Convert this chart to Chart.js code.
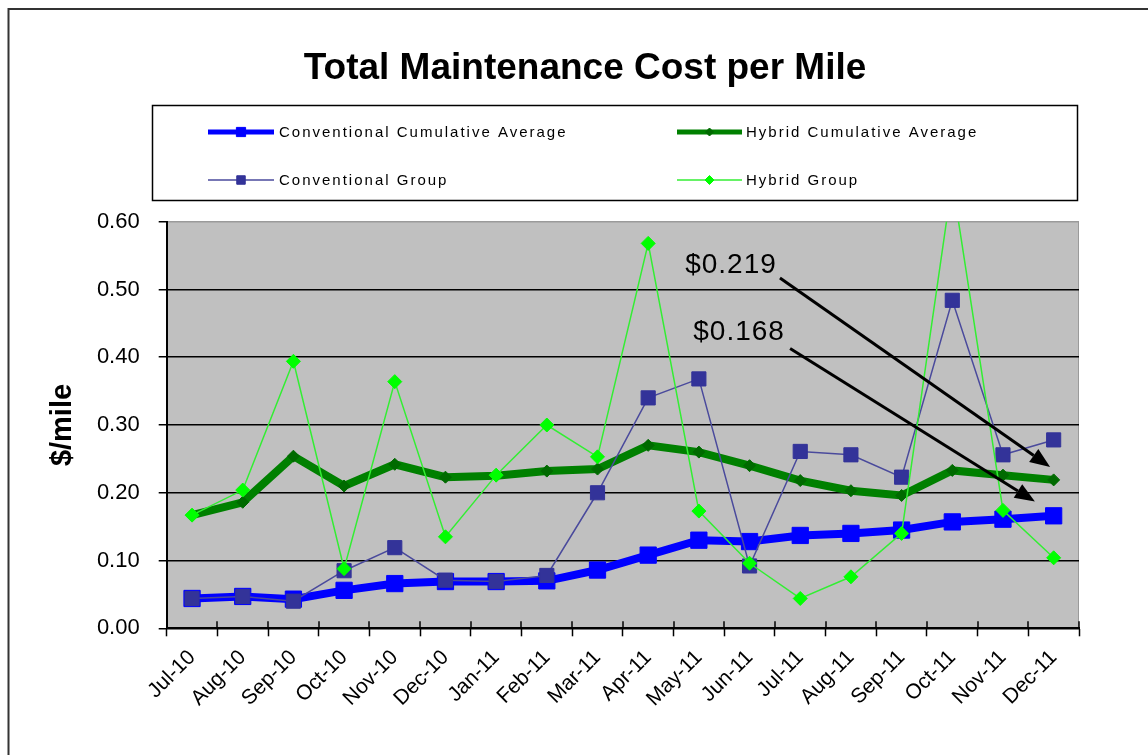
<!DOCTYPE html>
<html>
<head>
<meta charset="utf-8">
<title>Total Maintenance Cost per Mile</title>
<script src="https://cdn.jsdelivr.net/npm/chart.js@4.4.0/dist/chart.umd.min.js"></script>
<style>
    html, body { margin: 0; padding: 0; background: #fff; }
</style>
</head>
<body>
<canvas id="miGrafica" width="1148" height="755"></canvas>
<script>
// Meses (eje X)
const meses = ['Jul-10', 'Aug-10', 'Sep-10', 'Oct-10', 'Nov-10', 'Dec-10', 'Jan-11', 'Feb-11', 'Mar-11',
    'Apr-11', 'May-11', 'Jun-11', 'Jul-11', 'Aug-11', 'Sep-11', 'Oct-11', 'Nov-11', 'Dec-11'];

// Series ($/mile)
const convCumulative = [0.044, 0.047, 0.043, 0.056, 0.066, 0.069, 0.069, 0.070, 0.086,
    0.108, 0.130, 0.128, 0.137, 0.140, 0.145, 0.157, 0.161, 0.166];
const hybridCumulative = [0.167, 0.186, 0.254, 0.210, 0.242, 0.223, 0.225, 0.232, 0.235,
    0.270, 0.260, 0.240, 0.218, 0.203, 0.196, 0.233, 0.226, 0.219];
const convGroup = [0.044, 0.047, 0.040, 0.085, 0.119, 0.071, 0.069, 0.078, 0.200,
    0.340, 0.368, 0.092, 0.261, 0.256, 0.223, 0.484, 0.256, 0.278];
const hybridGroup = [0.167, 0.204, 0.394, 0.088, 0.364, 0.135, 0.226, 0.300, 0.253,
    0.568, 0.173, 0.096, 0.044, 0.076, 0.140, 0.660, 0.174, 0.104];

// Marcas del eje Y
const yTickValues = [0, 0.1, 0.2, 0.3, 0.4, 0.5, 0.6];

// Notas con flecha (en coordenadas de datos: indice de mes, valor)
const notas = [
    { texto: '$0.219', x: 9.73, y: 0.525, desdeX: 11.60, desdeY: 0.517, hastaX: 16.93, hastaY: 0.238 },
    { texto: '$0.168', x: 9.89, y: 0.425, desdeX: 11.80, desdeY: 0.413, hastaX: 16.63, hastaY: 0.187 },
];

const FUENTE = "'Liberation Sans', Arial, sans-serif";

const decoracion = {
    id: 'decoracion',
    beforeDraw(chart) {
        const { ctx, chartArea: a } = chart;
        ctx.save();
        ctx.fillStyle = '#fff';
        ctx.fillRect(0, 0, chart.width, chart.height);

        // fondo gris del area de trazado
        ctx.fillStyle = '#c0c0c0';
        ctx.fillRect(a.left, a.top, a.right - a.left, a.bottom - a.top);
        ctx.strokeStyle = '#9a9a9a';
        ctx.lineWidth = 1;
        ctx.beginPath();
        ctx.moveTo(a.right - 0.5, a.top);
        ctx.lineTo(a.right - 0.5, a.bottom);
        ctx.stroke();

        // marco exterior
        ctx.strokeStyle = '#333';
        ctx.lineWidth = 2;
        ctx.strokeRect(8.5, 9, chart.width + 20, chart.height + 20);

        // titulo
        ctx.fillStyle = '#000';
        ctx.font = 'bold 37px ' + FUENTE;
        ctx.textAlign = 'center';
        ctx.textBaseline = 'alphabetic';
        ctx.fillText('Total Maintenance Cost per Mile', 585, 79);
        ctx.restore();
    },
    afterDatasetsDraw(chart) {
        const { ctx } = chart;
        const x = chart.scales.x, y = chart.scales.y;
        ctx.save();
        notas.forEach(n => {
            ctx.fillStyle = '#000';
            ctx.font = '28px ' + FUENTE;
            ctx.letterSpacing = '1px';
            ctx.textAlign = 'left';
            ctx.textBaseline = 'alphabetic';
            ctx.fillText(n.texto, x.getPixelForValue(n.x), y.getPixelForValue(n.y));

            const x1 = x.getPixelForValue(n.desdeX), y1 = y.getPixelForValue(n.desdeY);
            const x2 = x.getPixelForValue(n.hastaX), y2 = y.getPixelForValue(n.hastaY);
            const ang = Math.atan2(y2 - y1, x2 - x1);
            const largo = 20, ancho = 8;
            const bx = x2 - largo * Math.cos(ang), by = y2 - largo * Math.sin(ang);
            ctx.strokeStyle = '#000';
            ctx.lineWidth = 3;
            ctx.beginPath();
            ctx.moveTo(x1, y1);
            ctx.lineTo(bx, by);
            ctx.stroke();
            ctx.beginPath();
            ctx.moveTo(x2, y2);
            ctx.lineTo(bx + ancho * Math.sin(ang), by - ancho * Math.cos(ang));
            ctx.lineTo(bx - ancho * Math.sin(ang), by + ancho * Math.cos(ang));
            ctx.closePath();
            ctx.fill();
        });
        ctx.restore();
    },
    afterDraw(chart) {
        const { ctx, chartArea: a } = chart;
        const x = chart.scales.x;
        ctx.save();

        // marcas del eje X que cruzan el eje
        ctx.strokeStyle = '#000';
        ctx.lineWidth = 1.5;
        for (let i = 0; i <= meses.length; i++) {
            const px = Math.round(x.getPixelForValue(i - 0.5));
            ctx.beginPath();
            ctx.moveTo(px, a.bottom);
            ctx.lineTo(px, a.bottom - 7);
            ctx.stroke();
        }

        // leyenda
        ctx.strokeStyle = '#000';
        ctx.lineWidth = 1.5;
        ctx.strokeRect(152.5, 105.5, 925, 95);
        const cols = [{ l0: 208, l1: 274, t: 279 }, { l0: 677, l1: 742, t: 746 }];
        const filas = [132, 180];
        const marcas = [
            { w: 5, r: 6.5 },
            { w: 5, r: 4 },
            { w: 1.5, r: 6 },
            { w: 1.5, r: 4.5 },
        ];
        chart.data.datasets.forEach((ds, i) => {
            const c = cols[i % 2], fy = filas[Math.floor(i / 2)];
            const m = marcas[i];
            const cx = (c.l0 + c.l1) / 2;
            ctx.strokeStyle = ds.borderColor;
            ctx.lineWidth = m.w;
            ctx.beginPath();
            ctx.moveTo(c.l0, fy);
            ctx.lineTo(c.l1, fy);
            ctx.stroke();

            ctx.fillStyle = ds.pointBackgroundColor;
            ctx.strokeStyle = ds.pointBorderColor;
            ctx.lineWidth = 1;
            ctx.beginPath();
            if (ds.pointStyle === 'rect') {
                const s = m.r * Math.SQRT1_2;
                ctx.rect(cx - s, fy - s, 2 * s, 2 * s);
            } else {
                ctx.moveTo(cx - m.r, fy);
                ctx.lineTo(cx, fy - m.r);
                ctx.lineTo(cx + m.r, fy);
                ctx.lineTo(cx, fy + m.r);
                ctx.closePath();
            }
            ctx.fill();
            ctx.stroke();

            ctx.fillStyle = '#000';
            ctx.font = '15px ' + FUENTE;
            ctx.letterSpacing = '2px';
            ctx.textAlign = 'left';
            ctx.textBaseline = 'middle';
            ctx.fillText(ds.label, c.t, fy + 1);
        });
        ctx.restore();
    }
};

const ctx = document.getElementById('miGrafica').getContext('2d');

window.myChart = new Chart(ctx, {
    type: 'line',
    data: {
        labels: meses,
        datasets: [
            {
                label: 'Conventional Cumulative Average',
                data: convCumulative,
                borderColor: '#0000ff',
                backgroundColor: '#0000ff',
                pointBackgroundColor: '#0000ff',
                pointBorderColor: '#0000ff',
                borderWidth: 8,
                pointStyle: 'rect',
                pointRadius: 11.5,
                pointBorderWidth: 1,
                order: 4,
            },
            {
                label: 'Hybrid Cumulative Average',
                data: hybridCumulative,
                borderColor: '#008000',
                backgroundColor: '#006a00',
                pointBackgroundColor: '#006a00',
                pointBorderColor: '#006a00',
                borderWidth: 8,
                pointStyle: 'rectRot',
                pointRadius: 6,
                pointBorderWidth: 1,
                order: 3,
            },
            {
                label: 'Conventional Group',
                data: convGroup,
                borderColor: '#4a4a9c',
                backgroundColor: '#333399',
                pointBackgroundColor: '#333399',
                pointBorderColor: '#333399',
                borderWidth: 1.5,
                pointStyle: 'rect',
                pointRadius: 10,
                pointBorderWidth: 1,
                order: 2,
            },
            {
                label: 'Hybrid Group',
                data: hybridGroup,
                borderColor: '#33ee33',
                backgroundColor: '#00ff00',
                pointBackgroundColor: '#00ff00',
                pointBorderColor: '#00ff00',
                borderWidth: 1.5,
                pointStyle: 'rectRot',
                pointRadius: 7,
                pointBorderWidth: 1,
                clip: 0,
                order: 1,
            },
        ],
    },
    options: {
        responsive: false,
        animation: false,
        devicePixelRatio: 1,
        layout: { padding: { top: 221.7, right: 69, bottom: 0, left: 0 } },
        elements: { line: { tension: 0 } },
        plugins: {
            legend: { display: false },
            tooltip: { enabled: false },
        },
        scales: {
            x: {
                offset: true,
                grid: {
                    display: true, offset: true, drawOnChartArea: false,
                    tickLength: 8, tickColor: '#000', tickWidth: 1.5,
                },
                border: { display: true, color: '#000', width: 2 },
                ticks: {
                    color: '#000', autoSkip: false, minRotation: 45, maxRotation: 45, padding: 9,
                    font: { family: FUENTE, size: 21 },
                },
                afterFit: s => { s.height = 755 - 628.3; },
            },
            y: {
                min: 0,
                max: 0.6,
                afterBuildTicks: s => { s.ticks = yTickValues.map(v => ({ value: v })); },
                grid: {
                    color: c => (c.tick && c.tick.value >= 0.6 ? '#9a9a9a' : '#000'),
                    lineWidth: 1.5,
                    tickLength: 8,
                    tickColor: '#000',
                },
                border: { display: true, color: '#000', width: 2 },
                ticks: {
                    color: '#000', padding: 19,
                    font: { family: FUENTE, size: 22 },
                    callback: v => v.toFixed(2),
                },
                title: {
                    display: true, text: '$/mile', color: '#000',
                    font: { family: FUENTE, size: 29, weight: 'bold' },
                    padding: { top: 46, bottom: 0 },
                },
                afterFit: s => { s.width = 166.7; },
            },
        },
    },
    plugins: [decoracion],
});
</script>
</body>
</html>
